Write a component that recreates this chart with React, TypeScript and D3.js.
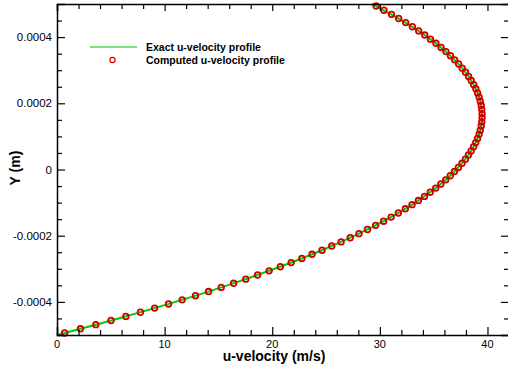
import { useEffect, useRef } from "react";
import { axisBottom, axisLeft, axisRight, axisTop, curveMonotoneY, line, range, scaleLinear, select } from "d3";

// cell-centre y positions (m) of the computed solution
const yCells = [
  -0.00049375, -0.00048125, -0.00046875, -0.00045625, -0.00044375, -0.00043125, -0.00041875, -0.00040625,
  -0.00039375, -0.00038125, -0.00036875, -0.00035625, -0.00034375, -0.00033125, -0.00031875, -0.00030625,
  -0.00029375, -0.00028125, -0.00026875, -0.00025625, -0.00024375, -0.00023125, -0.00021875, -0.00020625,
  -0.00019375, -0.00018125, -0.00016875, -0.00015625, -0.00014375, -0.00013125, -0.00011875, -0.00010625,
  -0.00009375, -0.00008125, -0.00006875, -0.00005625, -0.00004375, -0.00003125, -0.00001875, -0.00000625,
  0.00000625, 0.00001875, 0.00003125, 0.00004375, 0.00005625, 0.00006875, 0.00008125, 0.00009375,
  0.00010625, 0.00011875, 0.00013125, 0.00014375, 0.00015625, 0.00016875, 0.00018125, 0.00019375,
  0.00020625, 0.00021875, 0.00023125, 0.00024375, 0.00025625, 0.00026875, 0.00028125, 0.00029375,
  0.00030625, 0.00031875, 0.00033125, 0.00034375, 0.00035625, 0.00036875, 0.00038125, 0.00039375,
  0.00040625, 0.00041875, 0.00043125, 0.00044375, 0.00045625, 0.00046875, 0.00048125, 0.00049375,
];

const uComputed = [
  0.71, 2.18, 3.61, 5.02, 6.4, 7.75, 9.07, 10.36, 11.63, 12.87,
  14.08, 15.26, 16.41, 17.54, 18.64, 19.71, 20.75, 21.76, 22.75, 23.7,
  24.63, 25.53, 26.4, 27.25, 28.06, 28.85, 29.61, 30.35, 31.05, 31.72,
  32.37, 32.99, 33.58, 34.15, 34.68, 35.19, 35.67, 36.12, 36.54, 36.93,
  37.3, 37.64, 37.95, 38.23, 38.48, 38.71, 38.91, 39.08, 39.22, 39.33,
  39.42, 39.47, 39.5, 39.5, 39.47, 39.42, 39.33, 39.22, 39.08, 38.92,
  38.72, 38.49, 38.24, 37.96, 37.65, 37.32, 36.95, 36.56, 36.14, 35.69,
  35.21, 34.7, 34.17, 33.61, 33.02, 32.4, 31.75, 31.08, 30.38, 29.65,
];

// exact profile samples
const yExact = [
  -0.0005, -0.00045, -0.0004, -0.00035, -0.0003, -0.00025, -0.0002, -0.00015, -0.0001, -0.00005, 0,
  0.00005, 0.0001, 0.00015, 0.0002, 0.00025, 0.0003, 0.00035, 0.0004, 0.00045, 0.0005,
];
const uExact = [
  0, 5.71, 11.0, 15.84, 20.23, 24.17, 27.66, 30.7, 33.29, 35.43, 37.12,
  38.36, 39.15, 39.49, 39.38, 38.82, 37.81, 36.35, 34.44, 32.08, 29.27,
];

const xMajorTicks = [0, 10, 20, 30, 40];
const yMajorTicks = [-0.0004, -0.0002, 0, 0.0002, 0.0004];
const yTickLabels = ["-0.0004", "-0.0002", "0", "0.0002", "0.0004"];

const legendLabels = ["Exact u-velocity profile", "Computed u-velocity profile"];

const W = 508;
const H = 370;
const FONT = "'Liberation Sans', Arial, Helvetica, sans-serif";

function ProfileChart() {
  const svgRef = useRef(null);

  useEffect(() => {
    const svg = select(svgRef.current);
    svg.selectAll("*").remove();

    const x = scaleLinear().domain([0, 42]).range([57, 509]);
    const y = scaleLinear().domain([-0.0005, 0.0005]).range([335, 4]);

    const xMinor = range(0, 43, 2).filter((v) => v % 10 !== 0);
    const yMinor = range(-0.00045, 0.0005, 0.00005).filter(
      (v) => Math.abs(Math.round(v * 1e5) % 20) !== 0
    );

    const styleAxis = (g, size = 11.5) => {
      g.selectAll(".domain").attr("stroke", "#000").attr("stroke-width", 1.5);
      g.selectAll(".tick line").attr("stroke", "#000").attr("stroke-width", 1.2);
      g.selectAll("text").attr("font-family", FONT).attr("font-size", size).attr("fill", "#000");
    };

    // exact line underneath markers
    const profile = line()
      .x((d) => x(d[0]))
      .y((d) => y(d[1]))
      .curve(curveMonotoneY);

    svg
      .append("path")
      .datum(uExact.map((u, i) => [u, yExact[i]]))
      .attr("d", profile)
      .attr("fill", "none")
      .attr("stroke", "#00cc00")
      .attr("stroke-width", 2);

    svg
      .selectAll(".pt")
      .data(uComputed.map((u, i) => [u, yCells[i]]))
      .join("circle")
      .attr("class", "pt")
      .attr("cx", (d) => x(d[0]))
      .attr("cy", (d) => y(d[1]))
      .attr("r", 2.8)
      .attr("fill", "none")
      .attr("stroke", "#d00000")
      .attr("stroke-width", 1.8);

    // axes: major + minor ticks, all pointing inward
    const bottom = svg.append("g").attr("transform", `translate(0,${y(-0.0005)})`);
    bottom.call(axisTop(x).tickValues(xMajorTicks).tickSize(8).tickFormat(() => ""));
    bottom.append("g").call(axisTop(x).tickValues(xMinor).tickSize(5).tickFormat(() => "")).select(".domain").remove();
    bottom
      .selectAll(".lbl")
      .data(xMajorTicks)
      .join("text")
      .attr("class", "lbl")
      .attr("x", (d) => x(d))
      .attr("y", 12.5)
      .attr("text-anchor", "middle")
      .text((d) => d);
    styleAxis(bottom, 11);

    const top = svg.append("g").attr("transform", `translate(0,${y(0.0005)})`);
    top.call(axisBottom(x).tickValues(xMajorTicks).tickSize(7).tickFormat(() => ""));
    top.append("g").call(axisBottom(x).tickValues(xMinor).tickSize(5).tickFormat(() => "")).select(".domain").remove();
    styleAxis(top);

    const left = svg.append("g").attr("transform", `translate(${x(0)},0)`);
    left.call(axisRight(y).tickValues(yMajorTicks).tickSize(8).tickFormat(() => ""));
    left.append("g").call(axisRight(y).tickValues(yMinor).tickSize(5).tickFormat(() => "")).select(".domain").remove();
    left
      .selectAll(".lbl")
      .data(yMajorTicks)
      .join("text")
      .attr("class", "lbl")
      .attr("x", -5)
      .attr("y", (d) => y(d) + 4)
      .attr("text-anchor", "end")
      .text((_, i) => yTickLabels[i]);
    styleAxis(left);

    const right = svg.append("g").attr("transform", `translate(${x(42)},0)`);
    right.call(axisLeft(y).tickValues(yMajorTicks).tickSize(8).tickFormat(() => ""));
    right.append("g").call(axisLeft(y).tickValues(yMinor).tickSize(5).tickFormat(() => "")).select(".domain").remove();
    styleAxis(right);

    // axis titles
    svg
      .append("text")
      .attr("x", 274)
      .attr("y", 361)
      .attr("text-anchor", "middle")
      .attr("font-family", FONT)
      .attr("font-weight", "bold")
      .attr("font-size", 14)
      .text("u-velocity (m/s)");

    svg
      .append("text")
      .attr("transform", "translate(20,168) rotate(-90)")
      .attr("text-anchor", "middle")
      .attr("font-family", FONT)
      .attr("font-weight", "bold")
      .attr("font-size", 14)
      .text("Y (m)");

    // legend
    const legend = svg.append("g");
    legend
      .append("line")
      .attr("x1", 90)
      .attr("x2", 137)
      .attr("y1", 47)
      .attr("y2", 47)
      .attr("stroke", "#80e080")
      .attr("stroke-width", 2);
    legend
      .append("circle")
      .attr("cx", 112.5)
      .attr("cy", 60)
      .attr("r", 2.6)
      .attr("fill", "none")
      .attr("stroke", "#e00000")
      .attr("stroke-width", 1.2);
    legend
      .selectAll("text")
      .data(legendLabels)
      .join("text")
      .attr("x", 146)
      .attr("y", (_, i) => 50.5 + i * 13)
      .attr("font-family", FONT)
      .attr("font-weight", "bold")
      .attr("font-size", 10.5)
      .text((d) => d);
  }, []);

  return (
    <svg
      ref={svgRef}
      width={W}
      height={H}
      style={{ position: "absolute", left: 0, top: 0, background: "#fff" }}
    />
  );
}

export default function App() {
  return <ProfileChart />;
}
